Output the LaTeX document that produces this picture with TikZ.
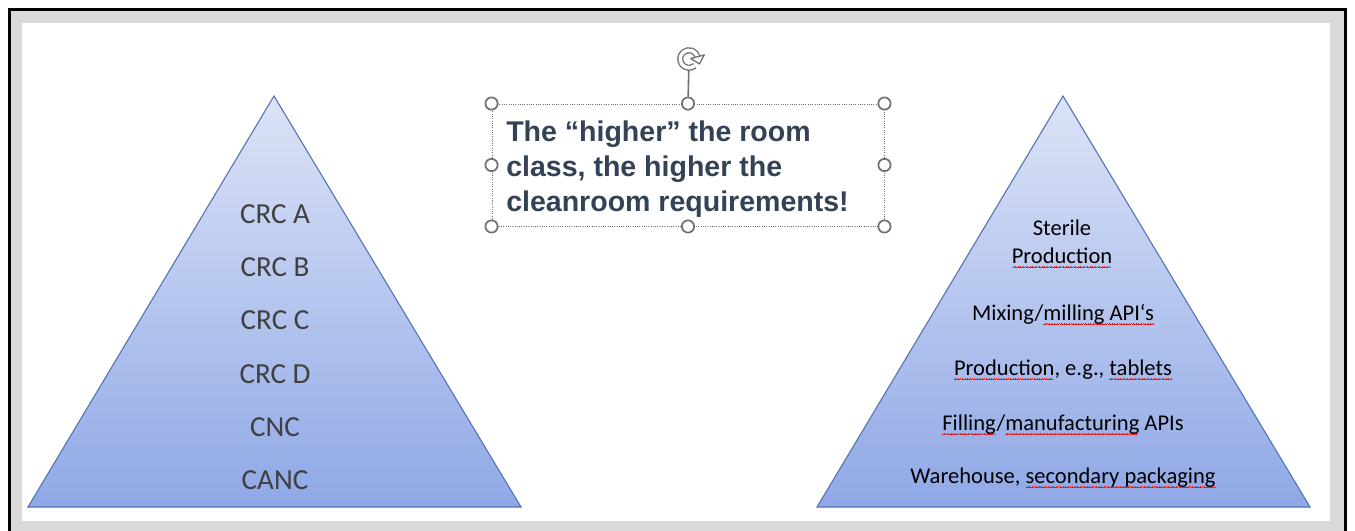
\documentclass[tikz,border=0pt]{standalone}
\usepackage{fontspec}
\setmainfont{Carlito}
\newfontfamily\claimfont{Liberation Sans}
\usetikzlibrary{arrows.meta, calc}
\usepackage{xcolor}
\definecolor{panelgrey}{RGB}{217,217,217}
\definecolor{tritop}{RGB}{220,227,246}
\definecolor{tribot}{RGB}{143,168,230}
\definecolor{triline}{RGB}{80,114,178}
\definecolor{crctext}{RGB}{64,64,64}
\definecolor{claimtext}{RGB}{52,66,86}
\definecolor{handlegrey}{RGB}{112,112,112}
\definecolor{spellred}{RGB}{230,30,30}
% red wavy underline, built from small stepped rules
\newcommand\wavebit{%
	\vrule height -3.3pt depth 3.9pt width .45pt
	\vrule height -2.8pt depth 3.4pt width .45pt
	\vrule height -2.3pt depth 2.9pt width .45pt
	\vrule height -2.8pt depth 3.4pt width .45pt}
\newcommand\spellmark[1]{\setbox0\hbox{#1}%
	\rlap{\textcolor{spellred}{\hbox to\wd0{\leaders\hbox{\wavebit}\hfill}}}#1}
\tikzset{
	pyramid/.style={draw=triline, line width=0.8pt, top color=tritop, bottom color=tribot},
	crc/.style={anchor=base, inner sep=0pt, text=crctext, font=\fontsize{21.8}{26}\selectfont},
	room/.style={anchor=base, align=center, inner sep=0pt, font=\fontsize{16.9}{21}\selectfont},
	selection/.style={draw=handlegrey, densely dotted, line width=0.7pt},
	grip/.style={circle, draw=handlegrey, fill=white, line width=1.3pt, minimum size=9.2pt, inner sep=0pt}
}

\begin{document}
\begin{tikzpicture}[x=0.75pt, y=-0.75pt]
	\useasboundingbox (0,0) rectangle (1355,531);
	\fill[white] (0,0) rectangle (1355,531);
	\fill[panelgrey] (9.5,9.5) rectangle (1345.5,545);
	\draw[line width=2.25pt] (9.5,545) |- (1345.5,9.5) -- (1345.5,545);
	\fill[white] (22,23) rectangle (1330,521);

	\coordinate (ltop) at (274,96);
	\coordinate (lleft) at (28,507);
	\coordinate (lright) at (521,507);
	\draw[pyramid] (ltop) -- (lright) -- (lleft) -- cycle;

	\coordinate (rtop) at (1063,96);
	\coordinate (rleft) at (817,507);
	\coordinate (rright) at (1310,507);
	\draw[pyramid] (rtop) -- (rright) -- (rleft) -- cycle;

	\foreach \lbl [count=\i from 0] in {CRC A, CRC B, CRC C, CRC D, CNC, CANC}
		\node[crc] (crc\i) at (275, 223.3+53.3*\i) {\lbl};

	\node[room] (sterile) at (1062,263) {Sterile\\\spellmark{Production}};
	\node[room] (mixing) at (1063,320) {Mixing/\spellmark{milling API‘s}};
	\node[room] (tablets) at (1063,375) {\spellmark{Production}, e.g., \spellmark{tablets}};
	\node[room] (filling) at (1063,430) {\spellmark{Filling}/\spellmark{manufacturing} APIs};
	\node[room] (warehouse) at (1063,483) {Warehouse, \spellmark{secondary packaging}};

	\node[selection, minimum width=294pt, minimum height=91.5pt, inner sep=0pt] (box) at (688,165) {};
	\node[anchor=west, align=left, inner sep=0pt, text=claimtext,
		font=\claimfont\bfseries\fontsize{21.4}{26.25}\selectfont] (claim) at (506,169.2)
		{The “higher” the room\\class, the higher the\\cleanroom requirements!};

	\foreach \a in {north west, north, north east, west, east, south west, south, south east}
		\node[grip] (grip \a) at (box.\a) {};

	% rotate handle above the box
	\node[circle, minimum size=18pt, inner sep=0pt, outer sep=0pt] (rotor) at (689,59) {};
	\draw[handlegrey, line width=1.2pt] (grip north) -- (rotor);
	\draw[handlegrey, line width=1pt, double=white, double distance=2.6pt]
		($(rotor)+(-50:6.6pt)$) arc[start angle=-50, end angle=-345, radius=6.6pt];
	\draw[handlegrey, fill=white, line width=1pt, line join=round]
		($(rotor)+(15:1.4pt)$) -- ($(rotor)+(15:11.8pt)$)
		-- ($(rotor)+(15:6.6pt)+(-75:5.6pt)$) -- cycle;
\end{tikzpicture}
\end{document}
